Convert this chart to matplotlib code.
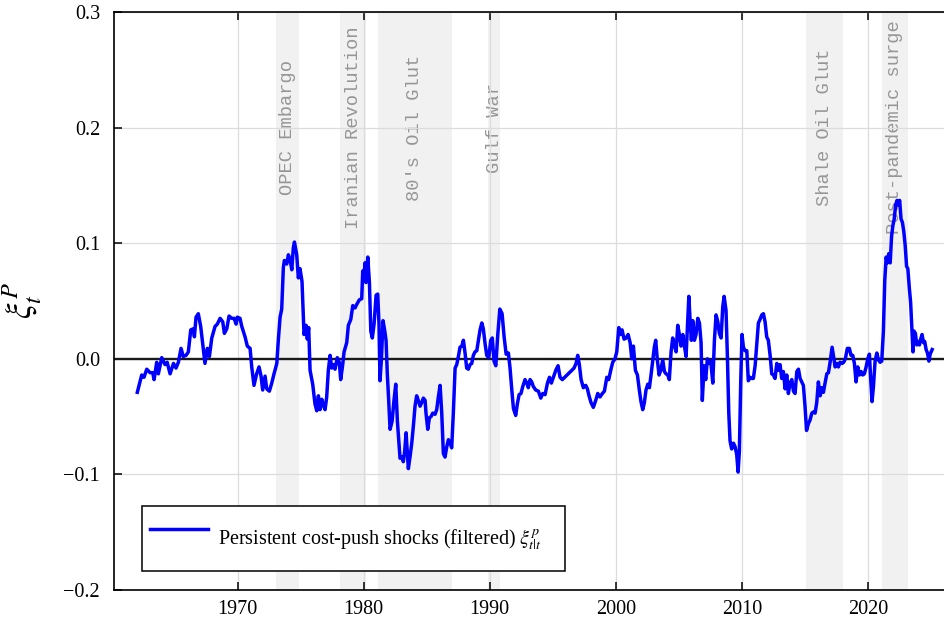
import matplotlib
matplotlib.use("Agg")
import matplotlib.pyplot as plt
import numpy as np

plt.rcParams['font.family'] = ['Liberation Serif', 'DejaVu Serif']
plt.rcParams['mathtext.fontset'] = 'stix'

dates = [
    1962.03, 1962.38, 1962.56, 1962.78, 1963.04, 1963.25, 1963.36, 1963.57, 1963.70, 1963.97,
    1964.23, 1964.40, 1964.63, 1964.90, 1965.10, 1965.29, 1965.50, 1965.68, 1965.90, 1966.08,
    1966.27, 1966.48, 1966.56, 1966.69, 1966.87, 1967.06, 1967.22, 1967.40, 1967.59, 1967.75,
    1967.94, 1968.20, 1968.38, 1968.60, 1968.81, 1968.94, 1969.13, 1969.31, 1969.52, 1969.71,
    1969.87, 1969.97, 1970.18, 1970.32, 1970.58, 1970.76, 1970.98, 1971.11, 1971.29, 1971.50,
    1971.69, 1971.85, 1971.98, 1972.17, 1972.30, 1972.51, 1972.70, 1972.88, 1973.10, 1973.22,
    1973.36, 1973.49, 1973.62, 1973.70, 1973.89, 1974.02, 1974.15, 1974.29, 1974.41, 1974.50,
    1974.55, 1974.68, 1974.81, 1974.94, 1975.10, 1975.26, 1975.42, 1975.52, 1975.63, 1975.74,
    1975.95, 1976.13, 1976.27, 1976.40, 1976.53, 1976.67, 1976.79, 1976.93, 1977.06, 1977.19,
    1977.33, 1977.46, 1977.59, 1977.72, 1977.90, 1978.06, 1978.17, 1978.33, 1978.44, 1978.65,
    1978.78, 1978.97, 1979.13, 1979.31, 1979.44, 1979.65, 1979.84, 1979.92, 1980.02, 1980.10,
    1980.18, 1980.32, 1980.45, 1980.56, 1980.68, 1980.82, 1980.98, 1981.11, 1981.21, 1981.29,
    1981.40, 1981.53, 1981.67, 1981.77, 1981.87, 1981.98, 1982.09, 1982.25, 1982.40, 1982.54,
    1982.67, 1982.80, 1982.88, 1983.04, 1983.14, 1983.25, 1983.36, 1983.46, 1983.54, 1983.67,
    1983.81, 1983.94, 1984.07, 1984.20, 1984.33, 1984.47, 1984.60, 1984.73, 1984.87, 1984.94,
    1985.08, 1985.21, 1985.34, 1985.48, 1985.66, 1985.79, 1985.92, 1986.06, 1986.19, 1986.32,
    1986.45, 1986.59, 1986.72, 1986.85, 1986.98, 1987.11, 1987.25, 1987.38, 1987.51, 1987.64,
    1987.78, 1987.91, 1988.04, 1988.17, 1988.30, 1988.44, 1988.57, 1988.70, 1988.83, 1988.97,
    1989.10, 1989.23, 1989.37, 1989.49, 1989.63, 1989.76, 1989.92, 1990.08, 1990.20, 1990.34,
    1990.48, 1990.63, 1990.80, 1990.98, 1991.14, 1991.30, 1991.48, 1991.61, 1991.75, 1991.88,
    1992.06, 1992.19, 1992.33, 1992.48, 1992.62, 1992.80, 1992.94, 1993.06, 1993.20, 1993.33,
    1993.46, 1993.65, 1993.86, 1994.05, 1994.21, 1994.39, 1994.58, 1994.74, 1994.89, 1995.05,
    1995.24, 1995.42, 1995.58, 1995.76, 1995.95, 1996.13, 1996.32, 1996.51, 1996.69, 1996.85,
    1996.98, 1997.11, 1997.25, 1997.43, 1997.62, 1997.75, 1997.88, 1998.04, 1998.22, 1998.41,
    1998.57, 1998.75, 1998.94, 1999.10, 1999.29, 1999.44, 1999.60, 1999.76, 1999.94, 2000.08,
    2000.24, 2000.37, 2000.50, 2000.66, 2000.82, 2000.98, 2001.14, 2001.27, 2001.40, 2001.56,
    2001.72, 2001.87, 2002.00, 2002.14, 2002.27, 2002.40, 2002.54, 2002.67, 2002.80, 2002.94,
    2003.06, 2003.17, 2003.30, 2003.44, 2003.57, 2003.73, 2003.86, 2003.99, 2004.13, 2004.25,
    2004.39, 2004.52, 2004.65, 2004.79, 2004.92, 2005.05, 2005.18, 2005.32, 2005.45, 2005.58,
    2005.71, 2005.80, 2005.90, 2006.00, 2006.11, 2006.24, 2006.37, 2006.51, 2006.64, 2006.77,
    2006.87, 2007.01, 2007.14, 2007.27, 2007.40, 2007.54, 2007.70, 2007.83, 2007.96, 2008.10,
    2008.22, 2008.36, 2008.49, 2008.60, 2008.75, 2008.86, 2008.97, 2009.07, 2009.20, 2009.34,
    2009.47, 2009.60, 2009.71, 2009.81, 2009.92, 2010.02, 2010.13, 2010.26, 2010.40, 2010.52,
    2010.66, 2010.79, 2010.92, 2011.06, 2011.19, 2011.32, 2011.45, 2011.59, 2011.72, 2011.85,
    2011.98, 2012.11, 2012.25, 2012.38, 2012.51, 2012.64, 2012.78, 2012.90, 2013.04, 2013.17,
    2013.30, 2013.44, 2013.57, 2013.70, 2013.83, 2013.97, 2014.10, 2014.23, 2014.37, 2014.50,
    2014.63, 2014.76, 2014.89, 2015.02, 2015.14, 2015.29, 2015.42, 2015.56, 2015.69, 2015.82,
    2015.95, 2016.08, 2016.22, 2016.35, 2016.48, 2016.61, 2016.75, 2016.88, 2017.01, 2017.17,
    2017.27, 2017.41, 2017.54, 2017.67, 2017.80, 2017.96, 2018.09, 2018.22, 2018.38, 2018.54,
    2018.67, 2018.81, 2018.94, 2019.07, 2019.21, 2019.34, 2019.47, 2019.60, 2019.73, 2019.87,
    2020.00, 2020.13, 2020.24, 2020.34, 2020.45, 2020.58, 2020.72, 2020.85, 2020.98, 2021.11,
    2021.24, 2021.35, 2021.46, 2021.56, 2021.67, 2021.78, 2021.89, 2021.99, 2022.10, 2022.21,
    2022.32, 2022.42, 2022.53, 2022.64, 2022.75, 2022.86, 2022.97, 2023.08, 2023.18, 2023.30,
    2023.40, 2023.51, 2023.59, 2023.67, 2023.78, 2023.89, 2023.99, 2024.10, 2024.20, 2024.31,
    2024.42, 2024.52, 2024.63, 2024.74, 2024.85, 2024.95, 2025.11,
]

# persistent cost-push shocks (filtered)
xi_filtered = [
    -0.029, -0.014, -0.016, -0.009, -0.012, -0.012, -0.018, -0.003, -0.013, 0.001,
    -0.005, -0.003, -0.013, -0.004, -0.008, -0.003, 0.009, 0.002, 0.003, 0.006,
    0.025, 0.026, 0.019, 0.036, 0.039, 0.028, 0.013, -0.004, 0.009, 0.002,
    0.018, 0.028, 0.030, 0.035, 0.032, 0.022, 0.026, 0.037, 0.035, 0.035,
    0.030, 0.036, 0.035, 0.028, 0.019, 0.011, 0.009, -0.007, -0.023, -0.013,
    -0.007, -0.015, -0.027, -0.015, -0.026, -0.028, -0.021, -0.013, -0.004, 0.016,
    0.036, 0.043, 0.079, 0.085, 0.082, 0.090, 0.086, 0.077, 0.096, 0.101,
    0.098, 0.090, 0.070, 0.078, 0.067, 0.021, 0.029, 0.017, 0.027, -0.010,
    -0.022, -0.039, -0.045, -0.032, -0.044, -0.035, -0.040, -0.044, -0.033, -0.010,
    0.003, -0.008, -0.005, -0.009, 0.001, -0.003, -0.018, -0.005, 0.006, 0.014,
    0.029, 0.034, 0.046, 0.044, 0.047, 0.051, 0.052, 0.076, 0.070, 0.083,
    0.066, 0.088, 0.066, 0.024, 0.018, 0.030, 0.055, 0.056, 0.030, -0.019,
    -0.001, 0.033, 0.024, 0.016, -0.013, -0.036, -0.061, -0.054, -0.036, -0.022,
    -0.054, -0.074, -0.086, -0.085, -0.089, -0.080, -0.064, -0.082, -0.095, -0.085,
    -0.073, -0.058, -0.041, -0.032, -0.036, -0.041, -0.038, -0.034, -0.036, -0.047,
    -0.061, -0.051, -0.050, -0.047, -0.048, -0.044, -0.033, -0.023, -0.047, -0.082,
    -0.085, -0.076, -0.070, -0.073, -0.077, -0.047, -0.008, -0.005, 0.002, 0.010,
    0.011, 0.016, 0.005, -0.008, -0.009, -0.005, -0.004, 0.003, 0.006, 0.007,
    0.016, 0.025, 0.031, 0.026, 0.013, 0.003, 0.001, 0.016, 0.018, -0.002,
    -0.006, 0.020, 0.043, 0.039, 0.019, 0.004, 0.005, -0.008, -0.027, -0.043,
    -0.049, -0.039, -0.031, -0.030, -0.024, -0.018, -0.021, -0.025, -0.018, -0.020,
    -0.024, -0.027, -0.028, -0.034, -0.030, -0.031, -0.021, -0.016, -0.021, -0.016,
    -0.010, -0.006, -0.016, -0.018, -0.016, -0.014, -0.012, -0.010, -0.008, -0.004,
    0.003, -0.005, -0.018, -0.025, -0.023, -0.026, -0.032, -0.038, -0.042, -0.036,
    -0.030, -0.033, -0.030, -0.028, -0.016, -0.018, -0.010, -0.003, 0.000, 0.006,
    0.027, 0.021, 0.025, 0.017, 0.018, 0.021, 0.014, 0.000, 0.011, -0.010,
    -0.014, -0.027, -0.037, -0.044, -0.038, -0.027, -0.022, -0.025, -0.014, -0.001,
    0.010, 0.016, -0.001, -0.014, -0.010, -0.001, -0.011, -0.013, -0.014, -0.018,
    0.006, 0.018, 0.012, 0.006, 0.029, 0.021, 0.011, 0.021, 0.011, 0.002,
    0.034, 0.054, 0.033, 0.016, 0.033, 0.016, 0.021, 0.035, 0.031, 0.014,
    -0.036, -0.006, -0.018, 0.000, -0.004, -0.002, -0.021, 0.016, 0.038, 0.032,
    0.022, 0.018, 0.045, 0.054, 0.042, 0.002, -0.047, -0.071, -0.078, -0.073,
    -0.076, -0.083, -0.098, -0.080, -0.019, 0.021, 0.010, 0.007, 0.007, -0.019,
    -0.016, -0.017, -0.017, -0.006, 0.013, 0.031, 0.034, 0.038, 0.039, 0.032,
    0.019, 0.016, 0.003, -0.013, -0.014, -0.017, -0.004, -0.010, -0.005, -0.017,
    -0.011, -0.026, -0.014, -0.030, -0.021, -0.018, -0.028, -0.030, -0.011, -0.009,
    -0.017, -0.020, -0.023, -0.041, -0.062, -0.056, -0.053, -0.047, -0.046, -0.047,
    -0.038, -0.020, -0.032, -0.025, -0.029, -0.021, -0.013, -0.012, -0.003, 0.010,
    0.003, -0.007, -0.004, -0.007, -0.003, -0.004, -0.003, 0.000, 0.009, 0.009,
    0.003, 0.003, -0.004, -0.020, -0.007, -0.014, -0.011, -0.014, -0.013, -0.007,
    0.000, 0.004, -0.019, -0.037, -0.024, -0.002, 0.005, -0.001, -0.003, -0.002,
    0.024, 0.068, 0.088, 0.083, 0.091, 0.083, 0.106, 0.115, 0.121, 0.133,
    0.137, 0.133, 0.137, 0.121, 0.118, 0.110, 0.098, 0.080, 0.078, 0.061,
    0.049, 0.025, 0.006, 0.024, 0.022, 0.012, 0.015, 0.012, 0.017, 0.021,
    0.014, 0.015, 0.008, 0.005, -0.002, 0.004, 0.008,
]

# shaded episodes
event_names = ["OPEC Embargo", "Iranian Revolution", "80's Oil Glut", "Gulf War",
               "Shale Oil Glut", "Post-pandemic surge"]
event_starts = [1973.0, 1978.1, 1981.1, 1989.85, 2015.1, 2021.1]
event_ends = [1974.9, 1980.2, 1987.0, 1990.85, 2018.0, 2023.2]

x_ticks = [1970, 1980, 1990, 2000, 2010, 2020]
y_ticks = [-0.2, -0.1, 0.0, 0.1, 0.2, 0.3]

W, H = 944, 623
fig = plt.figure(figsize=(W / 100, H / 100), dpi=100)
ax = fig.add_axes([114 / W, 1 - 590 / H, (W - 114) / W, (590 - 12) / H])

for s, e in zip(event_starts, event_ends):
    ax.axvspan(s, e, color='#f1f1f1', zorder=0, lw=0)
for name, s, e in zip(event_names, event_starts, event_ends):
    ax.text((s + e) / 2, 0.2, name, rotation=90, ha='center', va='center',
            family=['Liberation Mono', 'DejaVu Sans Mono'], fontsize=13.5,
            color='#969696', zorder=1)

ax.grid(True, color='#dcdcdc', lw=0.9)
for gl in ax.get_xgridlines() + ax.get_ygridlines():
    gl.set_zorder(0.5)
ax.axhline(0, color='#1a1a1a', lw=1.7, zorder=2)
ax.plot(dates, xi_filtered, color='#0000ff', lw=2.5, zorder=3,
        label="Persistent cost-push shocks (filtered) $\\xi^{p}_{t|t}$    ")

ax.set_xlim(1960.18, 2026.05)
ax.set_ylim(-0.2, 0.3)
ax.set_xticks(x_ticks)
ax.set_yticks(y_ticks)
ax.set_yticklabels(["\u22120.2", "\u22120.1", "0.0", "0.1", "0.2", "0.3"])
ax.tick_params(direction='in', top=True, right=False, length=6, width=1.1,
               labelsize=14.5)
ax.tick_params(axis='y', pad=10)
ax.tick_params(axis='x', pad=7)
ax.spines['right'].set_visible(False)
for sp in ['left', 'bottom', 'top']:
    ax.spines[sp].set_linewidth(1.2)
    ax.spines[sp].set_zorder(5)
ax.set_ylabel(r"$\xi_t^P$", fontsize=25, labelpad=14)

leg = ax.legend(loc='lower left', bbox_to_anchor=(28 / 830, 19 / 578),
                borderaxespad=0, fontsize=14.5, fancybox=False, framealpha=1,
                edgecolor='black', handlelength=2.9, handletextpad=0.45,
                handleheight=3.35, borderpad=0.4)
leg.get_frame().set_linewidth(1.1)

fig.savefig("out.png", dpi=100)
